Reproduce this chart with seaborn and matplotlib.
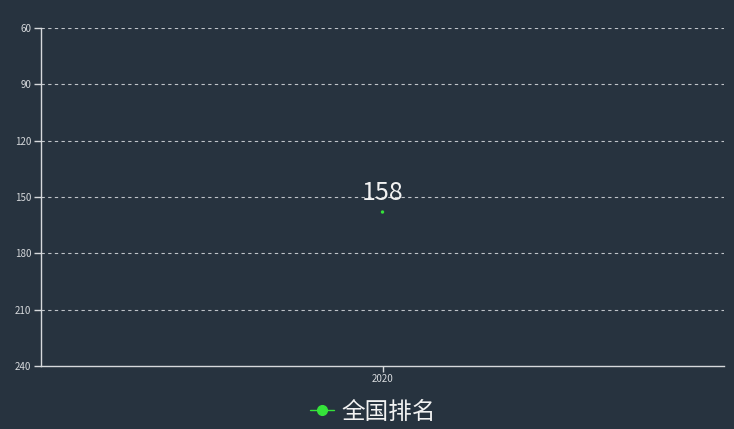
import matplotlib
matplotlib.use("Agg")
import matplotlib.pyplot as plt
import seaborn as sns
import pandas as pd
from matplotlib.lines import Line2D

years = ["2020"]
rank = [158]
series_name = "全国排名"
y_ticks = [60, 90, 120, 150, 180, 210, 240]

bg = "#27333f"
fg = "#d6d9dc"
green = "#35e33a"

sns.set_theme(style="white")
plt.rcParams['font.family'] = ['Noto Sans CJK SC', 'DejaVu Sans']

df = pd.DataFrame({"year": years, "rank": rank})

fig = plt.figure(figsize=(7.34, 4.29), dpi=100, facecolor=bg)
ax = fig.add_axes([41/734, 1-366/429, (724-41)/734, (366-28)/429])
ax.set_facecolor(bg)

sns.scatterplot(data=df, x="year", y="rank", ax=ax, color=green, s=6,
                edgecolor="none", legend=False, zorder=3)

ax.set_xlim(-0.5, 0.5)
ax.set_ylim(240, 60)
ax.set_yticks(y_ticks)
ax.set_yticklabels([str(t) for t in y_ticks])
ax.set_xlabel("")
ax.set_ylabel("")

for t in y_ticks[:-1]:
    ax.axhline(t, color="#bfc4c9", lw=0.8, ls=(0, (3, 3)), zorder=1)

for side in ["top", "right"]:
    ax.spines[side].set_visible(False)
for side in ["left", "bottom"]:
    ax.spines[side].set_color(fg)
    ax.spines[side].set_linewidth(1)

ax.tick_params(axis="y", colors=fg, labelsize=7, length=5, width=1, direction="out", pad=2, left=True)
ax.tick_params(axis="x", colors=fg, labelsize=7, length=4, width=1, direction="out", pad=1.5, bottom=True)

for x, y in zip(df["year"], df["rank"]):
    ax.annotate(str(y), (x, y), xytext=(0, 4), textcoords="offset points",
                ha="center", va="bottom", color="#f2f2f2", fontsize=18)

handle = Line2D([0], [0], color=green, lw=1, marker="o", markersize=7,
                markerfacecolor=green, markeredgecolor=green)
leg = fig.legend([handle], [series_name], loc="center",
                 bbox_to_anchor=(0.5 + 6/734, 1-412/429),
                 frameon=False, fontsize=17, handlelength=1.0, handletextpad=0.3,
                 labelcolor="#f2f2f2")

fig.savefig("out.png", dpi=100, facecolor=bg)
